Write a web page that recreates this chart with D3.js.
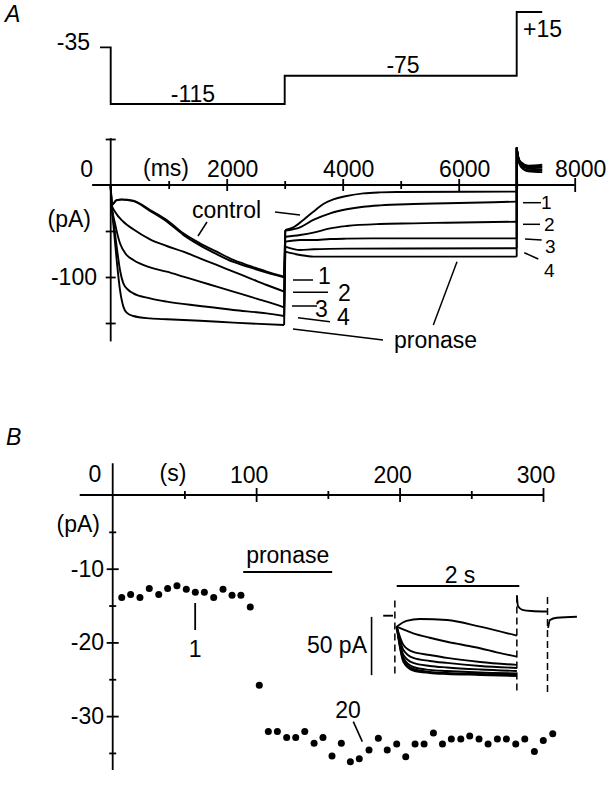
<!DOCTYPE html>
<html>
<head>
<meta charset="utf-8">
<script src="https://d3js.org/d3.v7.min.js"></script>
<style>
  html, body { margin: 0; padding: 0; background: #fff; }
  svg text { font-family: "Liberation Sans", Arial, Helvetica, sans-serif; font-size: 23px; fill: #000; }
  svg text.sm { font-size: 19px; }
  .ax path, .ax line { stroke: #000; stroke-width: 1.8; }
  .tr { fill: none; stroke: #000; stroke-width: 1.9; }
</style>
</head>
<body>
<svg id="fig" width="614" height="785"></svg>
<script>
// ---- panel A: voltage protocol (ms, mV)
const protoT  = [-185, 0, 0, 3000, 3000, 7000, 7000, 7440];
const protoMV = [-35, -35, -115, -115, -75, -75, 15, 15];

// ---- panel A: current traces (ms, pA) — control, 1, 2, 3, 4, pronase
const step1Traces = [
  [[0,0],[17,-21.7],[100,-16.5],[190,-15.6],[390,-17],[678,-27.2],[966,-38],[1252,-52.5],[1540,-63.4],[1828,-72.5],[2114,-81.5],[2402,-88],[2690,-94.2],[2990,-99.6]],
  [[0,0],[17,-21.7],[100,-16.8],[190,-15.9],[390,-17.6],[678,-28.2],[966,-39.6],[1252,-54.2],[1540,-65.6],[1828,-75.2],[2114,-83.6],[2402,-89.6],[2690,-95.2],[2990,-100.4]],
  [[0,0],[17,-21.7],[74,-29],[218,-39.9],[390,-48.2],[678,-59.1],[966,-66.3],[1252,-72.5],[1540,-79.7],[1828,-86.9],[2114,-94.2],[2402,-101.4],[2690,-108.7],[2990,-115.9]],
  [[0,0],[17,-21.7],[74,-41.7],[160,-63.4],[275,-76.1],[390,-81.5],[678,-89.5],[966,-94.2],[1252,-99.6],[1540,-105.1],[1828,-110.5],[2114,-115.9],[2402,-121.4],[2690,-126.8],[2990,-133]],
  [[0,0],[17,-21.7],[45,-38],[103,-67],[160,-92.4],[218,-106.9],[304,-114.1],[390,-117.8],[678,-123.2],[966,-126.8],[1540,-131.5],[2114,-135.9],[2690,-139.5],[2990,-142.4]],
  [[0,0],[17,-21.7],[45,-41.7],[103,-81.5],[160,-114.1],[218,-132.2],[275,-138.8],[390,-142.4],[678,-145],[966,-146],[1540,-147.5],[2114,-149.6],[2990,-152.2]]
];
const step2Traces = [
  [[3010,-48.9],[3149,-46],[3321,-38],[3494,-29],[3666,-20.7],[3838,-15.6],[4068,-12],[4356,-9.1],[4643,-8],[4931,-7.6],[7000,-7.2]],
  [[3010,-49.6],[3264,-46],[3494,-38],[3784,-30.8],[4068,-26.4],[4356,-23.6],[4643,-22.1],[5218,-20.7],[5793,-19.9],[7000,-18.1]],
  [[3010,-56.2],[3264,-54.3],[3494,-51.8],[3784,-47.1],[4068,-44.6],[4643,-42.4],[5218,-41.7],[5793,-41],[7000,-39.9]],
  [[3010,-61.6],[3264,-59.8],[3494,-59.8],[3784,-58.7],[4068,-58.3],[4643,-58],[7000,-58]],
  [[3010,-67],[3264,-70.7],[3494,-69.9],[4068,-69.2],[7000,-68.8]],
  [[3010,-72.5],[3264,-76.1],[3494,-77.9],[4643,-77.9],[7000,-77.9]]
];
const plusTails = [
  [[7000,41],[7030,27],[7070,20],[7200,15],[7440,14]],
  [[7000,41],[7030,28],[7070,21],[7200,16],[7440,16]],
  [[7000,40],[7030,28],[7070,22],[7200,18],[7440,17]],
  [[7000,40],[7030,29],[7070,23],[7200,19],[7440,19]],
  [[7000,39],[7030,29],[7070,24],[7200,20],[7440,20]],
  [[7000,39],[7030,30],[7070,25],[7200,21],[7440,22]]
];
const holdA = [[-220,0],[0,0]];
const tickA = [1000, 2000, 3000, 4000, 5000, 6000, 7000, 8000];
const tickLabelA = [2000, 4000, 6000, 8000];
const tickYA = [50, -50, -100, -150];

// ---- panel B: peak current vs time (s, pA)
const timeB = [6.3,12.5,19.0,25.5,32.1,38.3,44.8,51.3,57.6,63.9,70.4,76.9,83.2,89.4,95.9,102.2,108.5,114.8,121.3,127.6,133.9,140.4,146.6,152.9,159.4,165.7,171.9,178.7,185.2,191.4,198.0,204.3,210.8,217.1,223.6,229.9,236.1,242.7,248.9,255.4,261.7,268.2,274.5,281.0,287.3,294.0,300.2,306.8];
const currB = [-13.9,-13.5,-13.9,-12.7,-13.5,-12.7,-12.3,-12.8,-13.2,-13.2,-13.9,-12.8,-13.6,-13.6,-15.2,-25.8,-32.1,-32.1,-32.9,-32.9,-32.1,-33.7,-32.9,-35.4,-33.7,-36.2,-35.8,-34.6,-33.0,-34.6,-33.8,-35.5,-33.8,-33.8,-32.3,-33.8,-33.1,-33.1,-32.7,-33.1,-33.8,-33.1,-33.1,-33.8,-33.1,-34.8,-33.3,-32.4];
const pronaseB = [91, 153];
const tickXB = [50, 100, 150, 200, 250, 300];
const tickLabelB = [100, 200, 300];
const tickYB = [-5, -10, -15, -20, -25, -30, -35];
const tickLabelYB = [-10, -20, -30];

// ---- panel B inset: superimposed traces (s, pA)
const insetTraces = [
  [[0,-9.4],[0.16,-4.5],[0.38,-2.8],[0.82,-3.7],[1.36,-9.4],[1.96,-17.1]],
  [[0,-9.4],[0.27,-15.1],[0.54,-18.9],[0.82,-22.3],[1.09,-25.1],[1.36,-27.9],[1.63,-31.4],[1.96,-35.1]],
  [[0,-9.4],[0.11,-25.1],[0.27,-31.1],[0.54,-33.7],[0.82,-36.2],[1.36,-39.7],[1.96,-42.2]],
  [[0,-9.4],[0.11,-29.4],[0.27,-36.2],[0.54,-38.8],[0.82,-40.5],[1.36,-43.1],[1.96,-44.8]],
  [[0,-9.4],[0.11,-33.7],[0.27,-40.5],[0.54,-43.1],[0.82,-44.4],[1.36,-46.1],[1.96,-47.4]],
  [[0,-9.4],[0.11,-36.2],[0.27,-44.0],[0.54,-46.5],[0.82,-47.4],[1.36,-48.7],[1.96,-49.5]],
  [[0,-9.4],[0.11,-38.0],[0.27,-45.7],[0.54,-48.2],[0.82,-49.1],[1.36,-50.0],[1.96,-50.8]],
  [[0,-9.4],[0.11,-39.7],[0.27,-47.0],[0.54,-49.1],[0.82,-50.0],[1.36,-50.8],[1.96,-51.7]]
];
const insetHold = [[-0.22,0],[-0.06,0]];
const insetOff = [[1.96,17.4],[1.98,8],[2.05,5],[2.2,4],[2.45,3.6]];
const insetBack = [[2.47,-10.5],[2.50,-3.7],[2.61,-1.7],[2.94,-0.9]];
const insetEdges = [[-0.03,13,-52],[1.96,17.4,-65],[2.46,16,-66]];

const svg = d3.select('#fig');
const mkLine = (x, y, curve) => d3.line().x(d => x(d[0])).y(d => y(d[1])).curve(curve || d3.curveLinear);
const seg = (pts, w) => svg.append('line')
  .attr('x1', pts[0][0]).attr('y1', pts[0][1]).attr('x2', pts[1][0]).attr('y2', pts[1][1])
  .attr('stroke', '#000').attr('stroke-width', w || 1.5);
const label = (t, x, y, anchor, cls) => svg.append('text')
  .attr('x', x).attr('y', y).attr('text-anchor', anchor || 'start').attr('class', cls || null).text(t);

// ================= panel A =================
const xA = d3.scaleLinear().domain([0, 8000]).range([110.7, 574.7]);
const yA = d3.scaleLinear().domain([0, -150]).range([185, 323]);
const vA = d3.scaleLinear().domain([-115, 15]).range([104, 12]);

label('A', 5, 22).style('font-style', 'italic');

svg.append('path').datum(d3.zip(protoT, protoMV))
  .attr('class', 'tr').attr('stroke-width', 1.8)
  .attr('d', mkLine(xA, vA));
label('-35', 90, 49.5, 'end');
label('-115', 193, 101.5, 'middle');
label('-75', 403, 72.5, 'middle');
label('+15', 523, 36.5, 'start');

// axes
const gxA = svg.append('g').attr('class', 'ax').attr('transform', `translate(0,${yA(0)})`)
  .call(d3.axisBottom(xA).tickValues(tickA).tickFormat('').tickSizeOuter(0));
gxA.select('.domain').attr('d', `M${xA(-320)},0H${xA(8000)}`);
gxA.selectAll('.tick line').attr('y1', d => d === 8000 ? -7 : (d % 2000 ? -4 : -6))
  .attr('y2', d => d === 8000 ? 7 : (d % 2000 ? 4 : 6));

const gyA = svg.append('g').attr('class', 'ax').attr('transform', `translate(${xA(0)},0)`)
  .call(d3.axisLeft(yA).tickValues(tickYA).tickFormat('').tickSizeOuter(0));
gyA.select('.domain').attr('d', `M0,${yA(51)}V${yA(-170)}`);
gyA.selectAll('.tick line').attr('x1', -5).attr('x2', 5);

label('0', 86.7, 177, 'middle');
label('(ms)', 166, 176, 'middle');
tickLabelA.forEach(v => label(String(v), xA(v) + 6, 177, 'middle'));
label('(pA)', 91, 227, 'end');
label('-100', 97, yA(-100) + 8, 'end');

// traces
svg.append('path').datum(holdA).attr('class', 'tr').attr('stroke-width', 3.2).attr('d', mkLine(xA, yA));
const curveA = mkLine(xA, yA, d3.curveMonotoneX);
step1Traces.forEach((s1, i) => {
  const s2 = step2Traces[i], tl = plusTails[i];
  const w = i < 2 ? 2.3 : 1.9;
  svg.append('path').datum(s1).attr('class', 'tr').attr('stroke-width', w).attr('d', curveA);
  svg.append('path').datum([s1[s1.length - 1], s2[0]]).attr('class', 'tr').attr('stroke-width', 1.6).attr('d', mkLine(xA, yA));
  svg.append('path').datum(s2).attr('class', 'tr').attr('stroke-width', w).attr('d', curveA);
  svg.append('path').datum([s2[s2.length - 1], tl[0]]).attr('class', 'tr').attr('stroke-width', 1.6).attr('d', mkLine(xA, yA));
  svg.append('path').datum(tl).attr('class', 'tr').attr('stroke-width', 3).attr('d', curveA);
});

// trace annotations
label('control', 192, 218, 'start');
seg([[275, 212], [300, 215]]);
seg([[207, 222], [198, 236]]);
seg([[293, 280], [313, 280]]);        label('1', 318, 284);
seg([[293, 292.3], [328, 292.3]]);    label('2', 338, 300.5);
seg([[292, 306], [317, 306]]);        label('3', 315, 316.5);
seg([[298, 317.7], [330, 321.7]]);    label('4', 337, 325);
seg([[293, 329], [383, 340]]);
seg([[457, 261.7], [433.3, 325]]);
label('pronase', 394, 348);
seg([[523, 202.7], [541, 202.7]]);    label('1', 541, 209, 'start', 'sm');
seg([[523, 224.3], [540, 224.3]]);    label('2', 544, 231, 'start', 'sm');
seg([[525, 239], [541.7, 240]]);      label('3', 545, 253, 'start', 'sm');
seg([[524.3, 252.7], [538.3, 259]]);  label('4', 544, 277, 'start', 'sm');

// ================= panel B =================
const xB = d3.scaleLinear().domain([0, 300]).range([112.7, 543]);
const yB = d3.scaleLinear().domain([0, -30]).range([495, 716.1]);

label('B', 6, 445).style('font-style', 'italic');

const gxB = svg.append('g').attr('class', 'ax').attr('transform', `translate(0,${yB(0)})`)
  .call(d3.axisBottom(xB).tickValues(tickXB).tickFormat('').tickSizeOuter(0));
gxB.select('.domain').attr('d', `M${xB(-23)},0H${xB(300)}`);
gxB.selectAll('.tick line').attr('y1', d => d % 100 ? -4 : -7).attr('y2', d => d % 100 ? 4 : 7);

const gyB = svg.append('g').attr('class', 'ax').attr('transform', `translate(${xB(0)},0)`)
  .call(d3.axisLeft(yB).tickValues(tickYB).tickFormat('').tickSizeOuter(0));
gyB.select('.domain').attr('d', `M0,${yB(4.3)}V${yB(-37.3)}`);
gyB.selectAll('.tick line').attr('x1', d => d % 10 ? -3.5 : -6).attr('x2', d => d % 10 ? 3.5 : 6);

label('0', 95, 481.5, 'middle');
label('(s)', 173, 481, 'middle');
tickLabelB.forEach(v => label(String(v), xB(v) - 7, 483, 'middle'));
label('(pA)', 100, 532, 'end');
tickLabelYB.forEach(v => label(String(v), 104, yB(v) + 8, 'end'));

svg.append('g').selectAll('circle').data(d3.zip(timeB, currB)).join('circle')
  .attr('cx', d => xB(d[0])).attr('cy', d => yB(d[1])).attr('r', 3.5).attr('fill', '#000');

svg.append('line').attr('x1', xB(pronaseB[0])).attr('x2', xB(pronaseB[1]))
  .attr('y1', 572).attr('y2', 572).attr('stroke', '#000').attr('stroke-width', 2.2);
label('pronase', (xB(pronaseB[0]) + xB(pronaseB[1])) / 2, 563, 'middle');

seg([[xB(57.5), 603], [xB(57.5), 630]], 1.8);
label('1', xB(57.5), 656.5, 'middle');
label('20', 348, 718, 'middle');
seg([[353.3, 721.7], [362.3, 741.7]], 1.6);

// inset
const xI = d3.scaleLinear().domain([0, 2]).range([396.7, 519.3]);
const yI = d3.scaleLinear().domain([0, -50]).range([615.7, 674]);
const curveI = mkLine(xI, yI, d3.curveMonotoneX);

svg.append('line').attr('x1', xI(0)).attr('x2', xI(2)).attr('y1', 586).attr('y2', 586)
  .attr('stroke', '#000').attr('stroke-width', 2.2);
label('2 s', 460, 583, 'middle');
svg.append('line').attr('x1', xI(-0.41)).attr('x2', xI(-0.41)).attr('y1', yI(-1)).attr('y2', yI(-51))
  .attr('stroke', '#000').attr('stroke-width', 1.6);
label('50 pA', 367, 653, 'end');

svg.append('path').datum(insetHold).attr('class', 'tr').attr('stroke-width', 2.8).attr('d', mkLine(xI, yI));
insetEdges.forEach(e => {
  svg.append('line').attr('x1', xI(e[0])).attr('x2', xI(e[0])).attr('y1', yI(e[1])).attr('y2', yI(e[2]))
    .attr('stroke', '#000').attr('stroke-width', 1.5).attr('stroke-dasharray', '7,4');
});
insetTraces.forEach((tr, i) => {
  svg.append('path').datum(tr).attr('class', 'tr')
    .attr('stroke-width', i === 0 ? 2.8 : (i < 3 ? 1.7 : 2.3)).attr('d', curveI);
});
svg.append('path').datum(insetOff).attr('class', 'tr').attr('stroke-width', 2.6).attr('d', curveI);
svg.append('path').datum(insetBack).attr('class', 'tr').attr('stroke-width', 2.6).attr('d', curveI);
</script>
</body>
</html>
